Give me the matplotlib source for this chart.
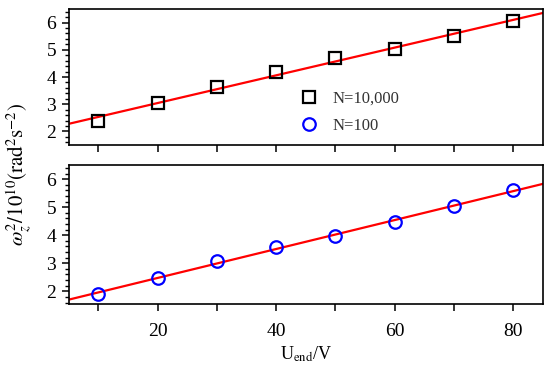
import numpy as np
import matplotlib
matplotlib.use("Agg")
import matplotlib.pyplot as plt
from matplotlib.ticker import MultipleLocator

plt.rcParams["font.family"] = ["Liberation Serif", "DejaVu Serif"]
plt.rcParams["mathtext.fontset"] = "stix"

# values
u_end = np.array([10, 20, 30, 40, 50, 60, 70, 80])
omega_n10000 = np.array([2.38, 3.05, 3.62, 4.20, 4.69, 5.03, 5.49, 6.07])
omega_n100 = np.array([1.90, 2.48, 3.09, 3.58, 3.96, 4.46, 5.06, 5.61])
x_labels = ["20", "40", "60", "80"]

fig = plt.figure(figsize=(5.5, 3.72), dpi=100)
ax_top = fig.add_axes([0.125, 0.610, 0.862, 0.366])
ax_bot = fig.add_axes([0.125, 0.183, 0.862, 0.373])

x_fit = np.array([5, 85])


def style_axis(ax, ylim):
    ax.set_xlim(5, 85)
    ax.set_ylim(*ylim)
    ax.xaxis.set_major_locator(MultipleLocator(10))
    ax.yaxis.set_major_locator(MultipleLocator(1))
    ax.yaxis.set_minor_locator(MultipleLocator(0.2))
    ax.tick_params(axis="both", which="major", direction="out", length=5,
                   width=1.1, labelsize=14, pad=4)
    ax.tick_params(axis="y", which="minor", direction="out", length=3, width=1.0)
    ax.tick_params(axis="x", which="minor", bottom=False)
    for sp in ax.spines.values():
        sp.set_linewidth(1.2)


for ax, y, marker, color, label, ylim in [
    (ax_top, omega_n10000, "s", "black", "N=10,000", (1.5, 6.5)),
    (ax_bot, omega_n100, "o", "blue", "N=100", (1.55, 6.5)),
]:
    k, b = np.polyfit(u_end, y, 1)
    ax.plot(x_fit, k * x_fit + b, color="red", lw=1.6, zorder=2)
    ax.plot(u_end, y, linestyle="none", marker=marker, markersize=9,
            markerfacecolor="none", markeredgecolor=color, markeredgewidth=1.6,
            label=label, zorder=3)
    style_axis(ax, ylim)

ax_top.set_xticklabels([])
ax_bot.set_xticks([20, 40, 60, 80])
ax_bot.set_xticks([10, 30, 50, 70], minor=True)
ax_bot.tick_params(axis="x", which="minor", bottom=True, direction="out",
                   length=5, width=1.1)
ax_bot.set_xticklabels(x_labels)
ax_bot.tick_params(axis="x", which="major", pad=9)

h1, l1 = ax_top.get_legend_handles_labels()
h2, l2 = ax_bot.get_legend_handles_labels()
ax_top.legend(h1 + h2, l1 + l2, loc="center left", bbox_to_anchor=(0.44, 0.24),
              frameon=False, fontsize=12, handletextpad=0.4, labelspacing=0.65,
              labelcolor="#333333")

ax_bot.set_xlabel(r"U$_\mathrm{end}$/V", fontsize=13, labelpad=3)
fig.text(0.036, 0.53, r"$\omega_z^2/10^{10}(\mathrm{rad}^2\mathrm{s}^{-2})$",
         rotation=90, ha="center", va="center", fontsize=15)

fig.savefig("out.png", dpi=100)
